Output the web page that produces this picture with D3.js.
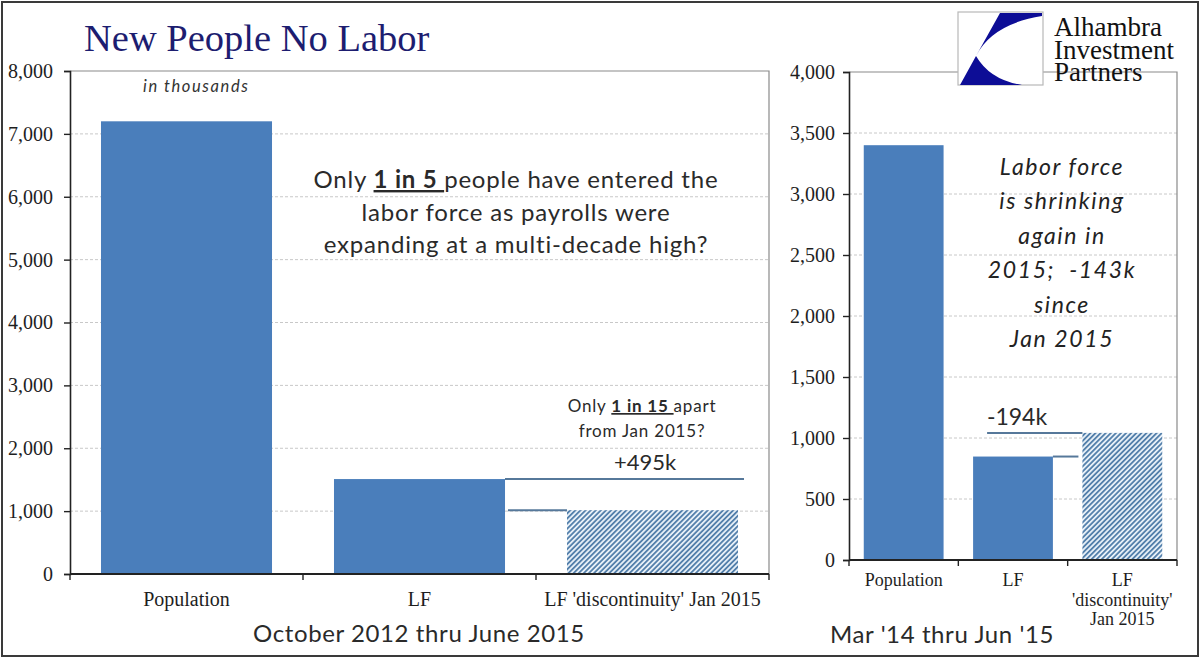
<!DOCTYPE html>
<html>
<head>
<meta charset="utf-8">
<script src="https://cdn.jsdelivr.net/npm/d3@7"></script>
<style>
  body { margin: 0; background: #fff; }
  svg text { font-family: "Liberation Serif", serif; fill: #1e1e1e; }
  .sans { font-family: Lato, "Open Sans", sans-serif; }
</style>
</head>
<body>
<svg id="chart" width="1201" height="659"></svg>
<script>
// values in thousands
var categories = ["Population", "LF", "LF 'discontinuity' Jan 2015"];
var leftValues = [7200, 1510, 1015];
var rightValues = [3400, 848, 1042];
var rightLabels = [["Population"], ["LF"], ["LF", "'discontinuity'", "Jan 2015"]];
var leftTicks = [0, 1000, 2000, 3000, 4000, 5000, 6000, 7000, 8000];
var rightTicks = [0, 500, 1000, 1500, 2000, 2500, 3000, 3500, 4000];

var barColor = '#4a7ebb',
    lineColor = '#56789a',
    gridColor = '#c8c8c8';

var svg = d3.select('#chart');

// hatch for the "discontinuity" bars
var defs = svg.append('defs');
var pat = defs.append('pattern')
    .attr('id', 'hatch')
    .attr('patternUnits', 'userSpaceOnUse')
    .attr('width', 3.6)
    .attr('height', 3.6)
    .attr('patternTransform', 'rotate(45)');
pat.append('rect').attr('width', 3.6).attr('height', 3.6).attr('fill', '#e6eff7');
pat.append('line')
    .attr('x1', 0.9).attr('y1', 0).attr('x2', 0.9).attr('y2', 3.6)
    .attr('stroke', '#5480ab').attr('stroke-width', 1.8);

// outer frame
svg.append('rect')
    .attr('x', 2).attr('y', 2).attr('width', 1196).attr('height', 654)
    .attr('fill', 'none').attr('stroke', '#3a3a3a').attr('stroke-width', 2);

function drawPanel(opt) {
    var x = d3.scaleBand()
        .domain(categories)
        .range([opt.x0, opt.x1])
        .paddingInner(opt.pad)
        .paddingOuter(opt.pad / 2);
    var y = d3.scaleLinear()
        .domain([0, opt.max])
        .range([opt.y0, opt.y1]);
    var g = svg.append('g');

    // dashed grid
    g.selectAll('.grid')
        .data(opt.ticks.slice(1, -1))
        .enter().append('line')
        .attr('x1', opt.x0).attr('x2', opt.x1)
        .attr('y1', d => y(d)).attr('y2', d => y(d))
        .attr('stroke', gridColor)
        .attr('stroke-dasharray', '3,2');

    // top + right border of plot area
    g.append('path')
        .attr('d', 'M' + opt.x0 + ',' + y(opt.max) + 'H' + opt.x1 + 'V' + y(0))
        .attr('fill', 'none')
        .attr('stroke', '#8a8a8a')
        .attr('stroke-width', 1.2);

    // bars
    g.selectAll('.bar')
        .data(opt.values)
        .enter().append('rect')
        .attr('x', (d, i) => x(categories[i]))
        .attr('y', d => y(d))
        .attr('width', x.bandwidth())
        .attr('height', d => y(0) - y(d))
        .attr('fill', (d, i) => i === 2 ? 'url(#hatch)' : barColor);

    // y axis
    var yAxis = d3.axisLeft(y)
        .tickValues(opt.ticks)
        .tickFormat(d3.format(','))
        .tickSizeOuter(0)
        .tickSize(6)
        .tickPadding(opt.tickPad);
    var ya = g.append('g')
        .attr('transform', 'translate(' + opt.x0 + ',0)')
        .call(yAxis);
    ya.select('.domain').attr('stroke', '#222').attr('stroke-width', 1.6);
    ya.selectAll('.tick line').attr('stroke', '#222').attr('stroke-width', 1.4);
    ya.selectAll('.tick text')
        .attr('font-family', 'Liberation Serif, serif')
        .attr('font-size', 20)
        .attr('fill', '#222');

    // x axis with ticks between categories
    var step = x.step();
    var edges = d3.range(categories.length + 1).map(i => opt.x0 + i * step);
    g.append('line')
        .attr('x1', opt.x0).attr('x2', opt.x1)
        .attr('y1', y(0)).attr('y2', y(0))
        .attr('stroke', '#222').attr('stroke-width', 1.8);
    g.selectAll('.xtick')
        .data(edges)
        .enter().append('line')
        .attr('x1', d => d).attr('x2', d => d)
        .attr('y1', y(0)).attr('y2', y(0) + 6)
        .attr('stroke', '#222').attr('stroke-width', 1.4);

    return { x: x, y: y, g: g };
}

// ---- left panel
var L = drawPanel({
    x0: 70, x1: 769, y0: 574, y1: 71, max: 8000,
    pad: 0.266, ticks: leftTicks, values: leftValues, tickPad: 11
});

L.g.selectAll('.xlab')
    .data(categories)
    .enter().append('text')
    .attr('x', d => L.x(d) + L.x.bandwidth() / 2)
    .attr('y', 606)
    .attr('text-anchor', 'middle')
    .attr('font-size', 20)
    .text(d => d);

// connector lines: LF level and discontinuity level
var lfRight = L.x(categories[1]) + L.x.bandwidth();
L.g.append('line')
    .attr('x1', lfRight).attr('x2', L.x(categories[2]) + L.x.bandwidth() + 6)
    .attr('y1', L.y(leftValues[1])).attr('y2', L.y(leftValues[1]))
    .attr('stroke', lineColor).attr('stroke-width', 2);
L.g.append('line')
    .attr('x1', lfRight + 3).attr('x2', L.x(categories[2]))
    .attr('y1', L.y(leftValues[2])).attr('y2', L.y(leftValues[2]))
    .attr('stroke', lineColor).attr('stroke-width', 2);

// ---- right panel
var R = drawPanel({
    x0: 849, x1: 1177, y0: 560, y1: 72, max: 4000,
    pad: 0.27, ticks: rightTicks, values: rightValues, tickPad: 8
});

R.g.selectAll('.xlab')
    .data(rightLabels)
    .enter().append('text')
    .attr('x', (d, i) => R.x(categories[i]) + R.x.bandwidth() / 2)
    .attr('y', 586)
    .attr('text-anchor', 'middle')
    .attr('font-size', 18)
    .each(function (d) {
        var t = d3.select(this);
        d.forEach((s, k) => {
            t.append('tspan')
                .attr('x', t.attr('x'))
                .attr('dy', k === 0 ? 0 : 19.5)
                .text(s);
        });
    });

var rLfRight = R.x(categories[1]) + R.x.bandwidth();
R.g.append('line')
    .attr('x1', R.x(categories[1]) + 14).attr('x2', R.x(categories[2]))
    .attr('y1', R.y(rightValues[2])).attr('y2', R.y(rightValues[2]))
    .attr('stroke', lineColor).attr('stroke-width', 2);
R.g.append('line')
    .attr('x1', rLfRight).attr('x2', R.x(categories[2]) - 4)
    .attr('y1', R.y(rightValues[1])).attr('y2', R.y(rightValues[1]))
    .attr('stroke', lineColor).attr('stroke-width', 2);

// ---- titles and notes
svg.append('text')
    .attr('x', 84).attr('y', 51)
    .attr('font-size', 38.5)
    .style('fill', '#1d1d70')
    .text('New People No Labor');

svg.append('text')
    .attr('class', 'sans')
    .attr('x', 143).attr('y', 92)
    .attr('font-size', 16.5)
    .attr('font-style', 'italic')
    .attr('letter-spacing', 1.6)
    .style('fill', '#333')
    .text('in thousands');

var note = svg.append('text')
    .attr('class', 'sans')
    .attr('text-anchor', 'middle')
    .attr('font-size', 24)
    .attr('letter-spacing', 0.8)
    .style('fill', '#2a2a2a');
var l1 = note.append('tspan').attr('x', 516).attr('y', 188);
l1.append('tspan').text('Only ');
l1.append('tspan').attr('font-weight', 'bold').attr('text-decoration', 'underline').text('1 in 5 ');
l1.append('tspan').text('people have entered the');
note.append('tspan').attr('x', 516).attr('y', 221).text('labor force as payrolls were');
note.append('tspan').attr('x', 516).attr('y', 253).text('expanding at a multi-decade high?');

var note2 = svg.append('text')
    .attr('class', 'sans')
    .attr('text-anchor', 'middle')
    .attr('font-size', 17)
    .attr('letter-spacing', 0.8)
    .style('fill', '#2a2a2a');
var m1 = note2.append('tspan').attr('x', 642).attr('y', 412);
m1.append('tspan').text('Only ');
m1.append('tspan').attr('font-weight', 'bold').attr('text-decoration', 'underline').text('1 in 15 ');
m1.append('tspan').text('apart');
note2.append('tspan').attr('x', 642).attr('y', 437).text('from Jan 2015?');

svg.append('text')
    .attr('class', 'sans')
    .attr('x', 645).attr('y', 470)
    .attr('text-anchor', 'middle')
    .attr('font-size', 22)
    .style('fill', '#2a2a2a')
    .text('+495k');

svg.append('text')
    .attr('class', 'sans')
    .attr('x', 1017).attr('y', 425)
    .attr('text-anchor', 'middle')
    .attr('font-size', 23)
    .style('fill', '#2a2a2a')
    .text('-194k');

var rightNote = ['Labor force', 'is shrinking', 'again in', '2015;  -143k', 'since', 'Jan 2015'];
svg.append('text')
    .attr('class', 'sans')
    .attr('text-anchor', 'middle')
    .attr('font-size', 23)
    .attr('font-style', 'italic')
    .attr('letter-spacing', 1.6)
    .style('fill', '#222')
    .selectAll('tspan')
    .data(rightNote)
    .enter().append('tspan')
    .attr('x', 1062)
    .attr('y', (d, i) => 175 + i * 34.4)
    .style('white-space', 'pre')
    .text(d => d);

svg.append('text')
    .attr('class', 'sans')
    .attr('x', 419).attr('y', 642)
    .attr('text-anchor', 'middle')
    .attr('font-size', 24)
    .attr('letter-spacing', 0.6)
    .style('fill', '#2a2a2a')
    .text('October 2012  thru June 2015');

svg.append('text')
    .attr('class', 'sans')
    .attr('x', 830).attr('y', 643)
    .attr('font-size', 24)
    .attr('letter-spacing', 0.6)
    .style('fill', '#2a2a2a')
    .text("Mar '14 thru Jun '15");

// ---- logo
var logo = svg.append('g');
logo.append('rect')
    .attr('x', 958).attr('y', 12).attr('width', 85).attr('height', 73)
    .attr('fill', '#fff').attr('stroke', '#b8b8b8').attr('stroke-width', 1.2);
logo.append('path')
    .attr('d', 'M1000,13 L1042,13 L1042,16 Q992,24 976,56 Z')
    .attr('fill', '#0d0d96');
logo.append('path')
    .attr('d', 'M976,56 Q990,80 1022,85 L960,85 Z')
    .attr('fill', '#0d0d96');
logo.append('text')
    .attr('font-size', 27)
    .style('fill', '#111')
    .selectAll('tspan')
    .data(['Alhambra', 'Investment', 'Partners'])
    .enter().append('tspan')
    .attr('x', 1054)
    .attr('y', (d, i) => 36 + i * 22.5)
    .text(d => d);
</script>
</body>
</html>
